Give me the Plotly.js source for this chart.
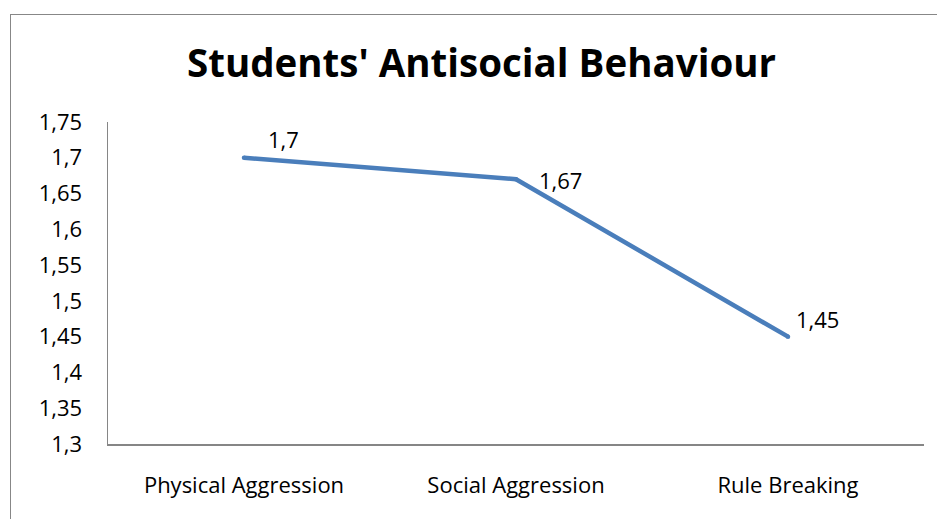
<!DOCTYPE html>
<html>
<head>
<meta charset="utf-8">
<script src="https://cdn.plot.ly/plotly-3.0.1.min.js"></script>
<style>
html,body{margin:0;padding:0;background:#fff;overflow:hidden;}
#wrap{position:relative;width:937px;height:519px;overflow:hidden;}
#frame{position:absolute;left:10px;top:14px;width:1000px;height:1000px;border-left:1.5px solid #878787;border-top:1.5px solid #878787;}
#chart{position:absolute;left:0;top:0;width:937px;height:519px;}
</style>
</head>
<body>
<div id="wrap">
<div id="frame"></div>
<div id="chart"></div>
</div>
<script>
const categories = ["Physical Aggression", "Social Aggression", "Rule Breaking"];
const values = [1.70, 1.67, 1.45];
const valueLabels = ["1,7", "1,67", "1,45"];
const yTicks = [1.3, 1.35, 1.4, 1.45, 1.5, 1.55, 1.6, 1.65, 1.7, 1.75];
const titleText = "Students' Antisocial Behaviour";

const FONT = "'Open Sans', sans-serif";
const labelShifts = [[39, 19], [44, -1], [29, 18]];

const trace = {
  x: categories,
  y: values,
  type: "scatter",
  mode: "lines+markers",
  line: {color: "#4a7ebb", width: 4.5},
  marker: {color: "#4a7ebb", size: 4.5},
  hoverinfo: "none"
};

const annotations = categories.map((c, i) => ({
  x: c, y: values[i], xref: "x", yref: "y",
  text: valueLabels[i], showarrow: false,
  xanchor: "center", yanchor: "middle",
  xshift: labelShifts[i][0], yshift: labelShifts[i][1],
  font: {family: FONT, size: 22, color: "#000"}
}));

const layout = {
  width: 937, height: 519,
  margin: {l: 108, r: 13, t: 122, b: 75, pad: 0},
  paper_bgcolor: "rgba(0,0,0,0)",
  plot_bgcolor: "rgba(0,0,0,0)",
  separators: ",.",
  showlegend: false,
  title: {
    text: "<b>" + titleText + "</b>",
    xref: "container", yref: "container",
    x: 481.5 / 937, xanchor: "center",
    y: 1 - 64 / 519, yanchor: "middle",
    font: {family: FONT, size: 38.5, color: "#000"}
  },
  xaxis: {
    type: "category",
    range: [-0.5, 2.5],
    showline: true, linecolor: "#868686", linewidth: 1.5,
    showgrid: false, zeroline: false, ticks: "",
    ticklabelstandoff: 21,
    tickfont: {family: FONT, size: 22, color: "#000"},
    fixedrange: true
  },
  yaxis: {
    range: [1.3, 1.75],
    tickvals: yTicks,
    ticktext: yTicks.map(v => String(v).replace(".", ",")),
    showline: true, linecolor: "#868686", linewidth: 1.5,
    showgrid: false, zeroline: false, ticks: "",
    ticklabelstandoff: 20,
    tickfont: {family: FONT, size: 22, color: "#000"},
    fixedrange: true
  },
  annotations: annotations
};

Plotly.newPlot("chart", [trace], layout, {staticPlot: true, displayModeBar: false});
</script>
</body>
</html>
